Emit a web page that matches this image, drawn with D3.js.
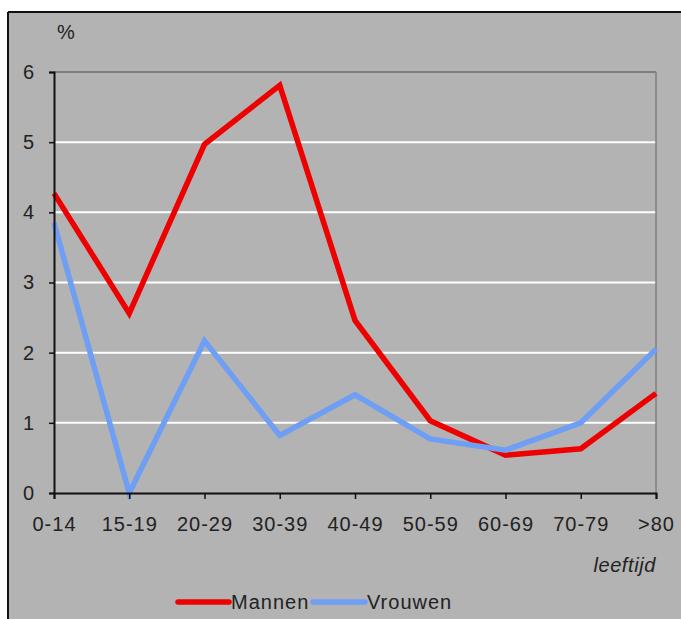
<!DOCTYPE html>
<html><head><meta charset="utf-8">
<script src="https://cdn.jsdelivr.net/npm/d3@7"></script>
<style>body{margin:0;background:#fff}svg{display:block}text{font-family:"Liberation Sans",Arial,sans-serif}</style>
</head><body><div id="c"></div>
<script>
const categories = ["0-14","15-19","20-29","30-39","40-49","50-59","60-69","70-79",">80"];
const mannen  = [4.27, 2.56, 4.97, 5.81, 2.46, 1.03, 0.54, 0.63, 1.42];
const vrouwen = [3.85, 0.0, 2.17, 0.82, 1.40, 0.77, 0.61, 1.00, 2.05];
const yTicks = [0,1,2,3,4,5,6];
const seriesNames = ["Mannen","Vrouwen"];
const colors = ["#ee0000","#6f9ef5"];

const W = 681, H = 619;
const FONT = "Liberation Sans, Arial, sans-serif";
const svg = d3.select("#c").append("svg").attr("width", W).attr("height", H);
svg.append("rect").attr("x",8).attr("y",12).attr("width",W-8).attr("height",H-12).attr("fill","#b3b3b3");
svg.append("line").attr("x1",8).attr("x2",8).attr("y1",12).attr("y2",H).attr("stroke","#111").attr("stroke-width",2);
svg.append("line").attr("x1",8).attr("x2",W).attr("y1",12).attr("y2",12).attr("stroke","#111").attr("stroke-width",2);

const x = d3.scalePoint().domain(categories).range([54, 656]);
const y = d3.scaleLinear().domain([0,6]).range([493, 72]);

// gridlines
svg.append("g").selectAll("line").data(yTicks.filter(d=>d>0)).join("line")
  .attr("x1",54).attr("x2",656).attr("y1",d=>y(d)).attr("y2",d=>y(d))
  .attr("stroke",d=>d===6?"#808080":"#ffffff").attr("stroke-width",2);
svg.append("line").attr("x1",656).attr("x2",656).attr("y1",y(6)).attr("y2",y(0)).attr("stroke","#808080").attr("stroke-width",1.5);

const line = d3.line().x((d,i)=>x(categories[i])).y(d=>y(d));
[mannen, vrouwen].forEach((s,k)=>{
  svg.append("path").datum(s).attr("d",line).attr("fill","none")
    .attr("stroke",colors[k]).attr("stroke-width",5.5).attr("stroke-linejoin","miter").attr("stroke-miterlimit",4);
});

// y axis
const ya = svg.append("g").attr("transform","translate(54,0)")
  .call(d3.axisLeft(y).tickValues(yTicks).tickSize(5).tickPadding(14).tickFormat(d3.format("d")));
ya.select(".domain").attr("stroke","#111").attr("stroke-width",2);
ya.selectAll(".tick line").attr("stroke","#111").attr("stroke-width",1.5);
ya.selectAll("text").attr("font-size",20).attr("fill","#222").attr("font-family",FONT).attr("letter-spacing","1px");

// x axis
const xa = svg.append("g").attr("transform","translate(0,493)")
  .call(d3.axisBottom(x).tickSize(6).tickPadding(18));
xa.select(".domain").attr("stroke","#111").attr("stroke-width",2);
xa.selectAll(".tick line").attr("stroke","#111").attr("stroke-width",1.5);
xa.selectAll("text").attr("font-size",20).attr("fill","#222").attr("font-family",FONT).attr("letter-spacing","1px");

svg.append("text").attr("x",57).attr("y",39).attr("font-size",20).attr("fill","#222").text("%");
svg.append("text").attr("x",656).attr("y",572).attr("text-anchor","end").attr("font-size",20)
  .attr("font-style","italic").attr("letter-spacing","0.6px").attr("fill","#222").text("leeftijd");

// legend
const lg = [{x1:178,x2:229,tx:231},{x1:313,x2:365,tx:367}];
seriesNames.forEach((n,k)=>{
  svg.append("line").attr("x1",lg[k].x1).attr("x2",lg[k].x2).attr("y1",602).attr("y2",602)
    .attr("stroke",colors[k]).attr("stroke-width",5.5).attr("stroke-linecap","round");
  svg.append("text").attr("x",lg[k].tx).attr("y",609).attr("font-size",20).attr("letter-spacing","1px")
    .attr("fill","#222").text(n);
});
</script></body></html>
